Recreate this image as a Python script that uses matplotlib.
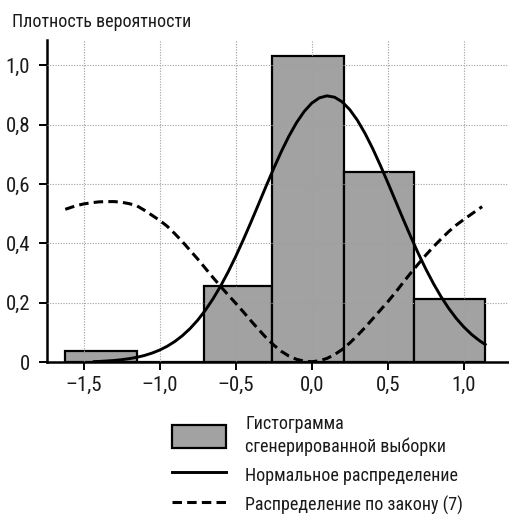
import matplotlib
matplotlib.use('Agg')
import matplotlib.pyplot as plt
from matplotlib import font_manager
from matplotlib.patches import Patch
from matplotlib.lines import Line2D

# шрифт: узкий, если есть
names = set(f.name for f in font_manager.fontManager.ttflist)
narrow = [n for n in ['Roboto Condensed', 'Liberation Sans Narrow', 'Open Sans Condensed',
                      'Noto Sans Condensed', 'DejaVu Sans Condensed'] if n in names]
if narrow:
    plt.rcParams['font.family'] = [narrow[0], 'DejaVu Sans']
else:
    plt.rcParams['font.family'] = ['DejaVu Sans']
    plt.rcParams['font.stretch'] = 'condensed'

# гистограмма сгенерированной выборки
bin_edges = [-1.62, -1.15, -0.705, -0.26, 0.215, 0.675, 1.14]
bin_heights = [0.038, 0.0, 0.256, 1.031, 0.642, 0.213]

# нормальное распределение
norm_x = [-1.43, -1.40, -1.35, -1.30, -1.25, -1.20, -1.15, -1.10, -1.05, -1.00,
          -0.95, -0.90, -0.85, -0.80, -0.75, -0.70, -0.65, -0.60, -0.55, -0.50,
          -0.45, -0.40, -0.35, -0.30, -0.25, -0.20, -0.15, -0.10, -0.05, 0.00,
          0.05, 0.10, 0.15, 0.20, 0.25, 0.30, 0.35, 0.40, 0.45, 0.50,
          0.55, 0.60, 0.65, 0.70, 0.75, 0.80, 0.85, 0.90, 0.95, 1.00,
          1.05, 1.10, 1.14]
norm_y = [0.0023, 0.0029, 0.0043, 0.0061, 0.0087, 0.0122, 0.0168, 0.0229, 0.0309, 0.0411,
          0.0540, 0.0700, 0.0897, 0.1134, 0.1416, 0.1747, 0.2127, 0.2557, 0.3036, 0.3560,
          0.4121, 0.4711, 0.5318, 0.5929, 0.6525, 0.7093, 0.7612, 0.8067, 0.8442, 0.8724,
          0.8902, 0.8970, 0.8924, 0.8768, 0.8506, 0.8149, 0.7709, 0.7201, 0.6641, 0.6049,
          0.5440, 0.4831, 0.4237, 0.3669, 0.3138, 0.2649, 0.2209, 0.1818, 0.1478, 0.1187,
          0.0941, 0.0737, 0.0600]

# распределение по закону (7)
law_x = [-1.62, -1.55, -1.50, -1.45, -1.40, -1.35, -1.30, -1.25, -1.20, -1.15,
         -1.10, -1.05, -1.00, -0.95, -0.90, -0.85, -0.80, -0.75, -0.70, -0.65,
         -0.60, -0.55, -0.50, -0.45, -0.40, -0.35, -0.30, -0.25, -0.20, -0.15,
         -0.10, -0.05, 0.00, 0.05, 0.10, 0.15, 0.20, 0.25, 0.30, 0.35,
         0.40, 0.45, 0.50, 0.55, 0.60, 0.65, 0.70, 0.75, 0.80, 0.85,
         0.90, 0.95, 1.00, 1.05, 1.12]
law_y = [0.515, 0.527, 0.533, 0.537, 0.540, 0.541, 0.541, 0.539, 0.534, 0.527,
         0.512, 0.495, 0.478, 0.458, 0.433, 0.406, 0.377, 0.348, 0.317, 0.286,
         0.256, 0.227, 0.199, 0.170, 0.140, 0.111, 0.083, 0.058, 0.037, 0.021,
         0.010, 0.004, 0.002, 0.005, 0.013, 0.026, 0.043, 0.065, 0.090, 0.117,
         0.146, 0.175, 0.204, 0.235, 0.268, 0.300, 0.331, 0.361, 0.389, 0.415,
         0.440, 0.462, 0.481, 0.499, 0.524]

x_ticks = [-1.5, -1.0, -0.5, 0.0, 0.5, 1.0]
x_ticklabels = ['–1,5', '–1,0', '–0,5', '0,0', '0,5', '1,0']
y_ticks = [0, 0.2, 0.4, 0.6, 0.8, 1.0]
y_ticklabels = ['0', '0,2', '0,4', '0,6', '0,8', '1,0']

labels = ['Гистограмма\nсгенерированной выборки', 'Нормальное распределение',
          'Распределение по закону (7)']

DASH = (3.1, 1.7)
TXT = '#1a1a1a'

W, H = 510, 516
fig = plt.figure(figsize=(W / 100, H / 100), dpi=100)
ax = fig.add_axes([47 / W, (H - 362.3) / H, (508 - 47) / W, (362.3 - 40) / H])

widths = [bin_edges[i + 1] - bin_edges[i] for i in range(len(bin_heights))]
ax.bar(bin_edges[:-1], bin_heights, width=widths, align='edge',
       color='#a2a2a2', edgecolor='black', linewidth=1.6, zorder=1)

ax.plot(norm_x, norm_y, color='black', lw=2.1, zorder=4)
ax.plot(law_x, law_y, color='black', lw=2.2, dashes=DASH, zorder=4)

ax.set_xlim(-1.74, 1.29)
ax.set_ylim(0, 1.085)
ax.set_xticks(x_ticks)
ax.set_xticklabels(x_ticklabels)
ax.set_yticks(y_ticks)
ax.set_yticklabels(y_ticklabels)
ax.tick_params(labelsize=15, length=6, width=1.4, colors='black', labelcolor=TXT)
ax.tick_params(axis='y', pad=6)
ax.tick_params(axis='x', pad=4)

ax.grid(True, color='#a0a0a0', linestyle=(0, (1, 1.4)), linewidth=0.8, zorder=2)
ax.set_axisbelow(False)

for s in ['top', 'right']:
    ax.spines[s].set_visible(False)
for s in ['left', 'bottom']:
    ax.spines[s].set_linewidth(1.8)

fig.text(12 / W, 1 - 22 / H, 'Плотность вероятности', fontsize=13, va='center',
         ha='left', color=TXT)

handles = [Patch(facecolor='#a2a2a2', edgecolor='black', linewidth=1.6),
           Line2D([], [], color='black', lw=2.1),
           Line2D([], [], color='black', lw=2.2, dashes=DASH)]
leg = fig.legend(handles, labels, loc='upper left', bbox_to_anchor=(172 / W, 1 - 415 / H),
                 frameon=False, fontsize=13, handlelength=3.0, handleheight=1.55,
                 handletextpad=1.05, labelspacing=0.42, borderpad=0, borderaxespad=0)
for t in leg.get_texts():
    t.set_linespacing(1.3)
    t.set_multialignment('left')
    t.set_color(TXT)

fig.savefig('out.png', dpi=100)
